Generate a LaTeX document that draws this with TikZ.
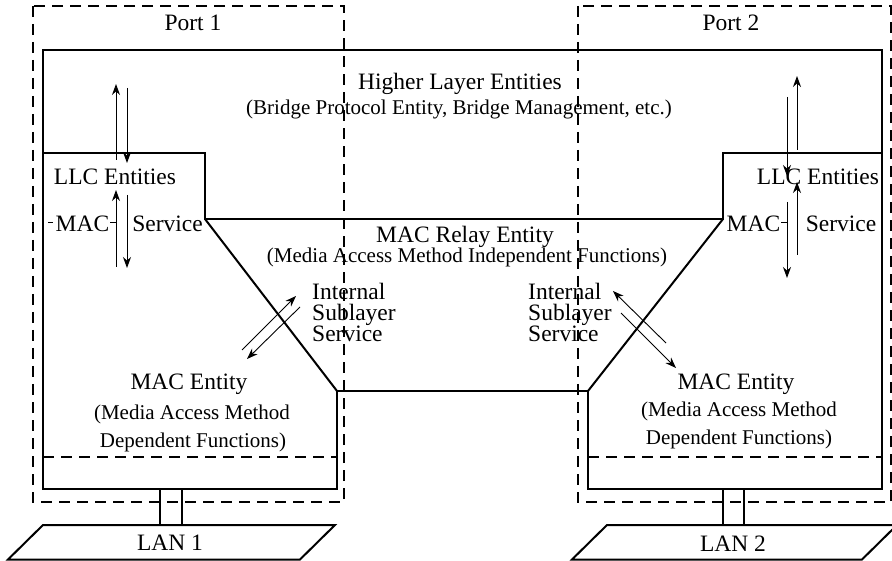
\documentclass[tikz,border=0pt]{standalone}
\usepackage{fontspec}
\setmainfont{Liberation Serif}
\usetikzlibrary{arrows.meta}
\begin{document}
\begin{tikzpicture}[x=1pt,y=-1pt,
  big/.style={font=\fontsize{23.5}{21}\selectfont, inner sep=0pt, anchor=base},
  bigblock/.style={font=\fontsize{23.5}{21}\selectfont, inner sep=0pt, anchor=north west, align=left},
  small/.style={font=\fontsize{21}{21}\selectfont, inner sep=0pt, anchor=base},
  outline/.style={line width=2pt, line join=miter},
  portdash/.style={line width=1.1pt, dash pattern=on 11pt off 7pt},
  innerdash/.style={line width=1.1pt, dash pattern=on 11pt off 7pt},
  link/.style={line width=1.2pt},
  tick/.style={line width=0.9pt},
  arr/.style={line width=0.9pt, -{Stealth[length=11pt,width=8pt]}}]
\useasboundingbox (0,0) rectangle (892,561);

% port dashed boxes
\draw[portdash] (33,6) rectangle (344,502);
\draw[portdash] (578,6) rectangle (891,502);

% main outline
\draw[outline] (43,50) -- (882,50) -- (882,489) -- (588,489) -- (588,391)
  -- (337,391) -- (337,489) -- (43,489) -- cycle;
\draw[outline] (43,153) -- (205,153) -- (205,219) -- (723,219) -- (723,153) -- (882,153);
\draw[outline] (205,219) -- (337,391);
\draw[outline] (723,219) -- (588,391);

% inner dashed lines
\draw[innerdash] (43,457) -- (337,457);
\draw[innerdash] (588,457) -- (882,457);

% LAN links
\draw[link] (160,489) -- (160,525);
\draw[link] (182,489) -- (182,525);
\draw[link] (723,489) -- (723,525);
\draw[link] (744,489) -- (744,525);

% LANs
\draw[outline] (43,525) -- (335,525) -- (300,559.5) -- (8,559.5) -- cycle;
\draw[outline] (607,525) -- (897,525) -- (862,559.5) -- (572,559.5) -- cycle;

% texts
\node[big] (port1) at (193,31) {Port 1};
\node[big] (port2) at (731,31) {Port 2};
\node[big] (hle) at (460,90) {Higher Layer Entities};
\node[small] (hlesub) at (459,115) {(Bridge Protocol Entity, Bridge Management, etc.)};
\node[big] (llc1) at (115,185) {LLC Entities};
\node[big] (llc2) at (818,185) {LLC Entities};
\node[big] (mac1) at (82.5,232) {MAC};
\node[big] (srv1) at (167.5,232) {Service};
\node[big] (mac2) at (753.5,232) {MAC};
\node[big] (srv2) at (841,232) {Service};
\node[big] (relay) at (465,243) {MAC Relay Entity};
\node[small] (relaysub) at (467,263) {(Media Access Method Independent Functions)};
\node[bigblock] (isl) at (312,283) {Internal\\Sublayer\\Service};
\node[bigblock] (isr) at (528,283) {Internal\\Sublayer\\Service};
\node[big] (me1) at (189,389) {MAC Entity};
\node[small] (me1a) at (192,420) {(Media Access Method};
\node[small] (me1b) at (193,447) {Dependent Functions)};
\node[big] (me2) at (736,389) {MAC Entity};
\node[small] (me2a) at (739,417) {(Media Access Method};
\node[small] (me2b) at (739,444) {Dependent Functions)};
\node[big] (lan1) at (170,550) {LAN 1};
\node[big] (lan2) at (733,551) {LAN 2};

% tick marks
\draw[tick] (48,222) -- (53,222);
\draw[tick] (110,222) -- (116,222);
\draw[tick] (781,222) -- (787,222);

% arrow end points
\coordinate (l1s) at (116,160); \coordinate (l1e) at (116,84);
\coordinate (l2s) at (127,88);  \coordinate (l2e) at (127,163);
\coordinate (l3s) at (116,267); \coordinate (l3e) at (116,190);
\coordinate (l4s) at (127,195); \coordinate (l4e) at (127,268);
\coordinate (r1s) at (787,97);  \coordinate (r1e) at (787,176);
\coordinate (r2s) at (797,150); \coordinate (r2e) at (797,76);
\coordinate (r3s) at (787,202); \coordinate (r3e) at (787,278);
\coordinate (r4s) at (797,255); \coordinate (r4e) at (797,182);
\coordinate (i1s) at (242,350); \coordinate (i1e) at (296,296);
\coordinate (i2s) at (300,307); \coordinate (i2e) at (247,359);
\coordinate (j1s) at (666,343); \coordinate (j1e) at (613,291);
\coordinate (j2s) at (621,313); \coordinate (j2e) at (676,368);

\draw[arr] (l1s) -- (l1e);
\draw[arr] (l2s) -- (l2e);
\draw[arr] (l3s) -- (l3e);
\draw[arr] (l4s) -- (l4e);
\draw[arr] (r1s) -- (r1e);
\draw[arr] (r2s) -- (r2e);
\draw[arr] (r3s) -- (r3e);
\draw[arr] (r4s) -- (r4e);
\draw[arr] (i1s) -- (i1e);
\draw[arr] (i2s) -- (i2e);
\draw[arr] (j1s) -- (j1e);
\draw[arr] (j2s) -- (j2e);
\end{tikzpicture}
\end{document}
